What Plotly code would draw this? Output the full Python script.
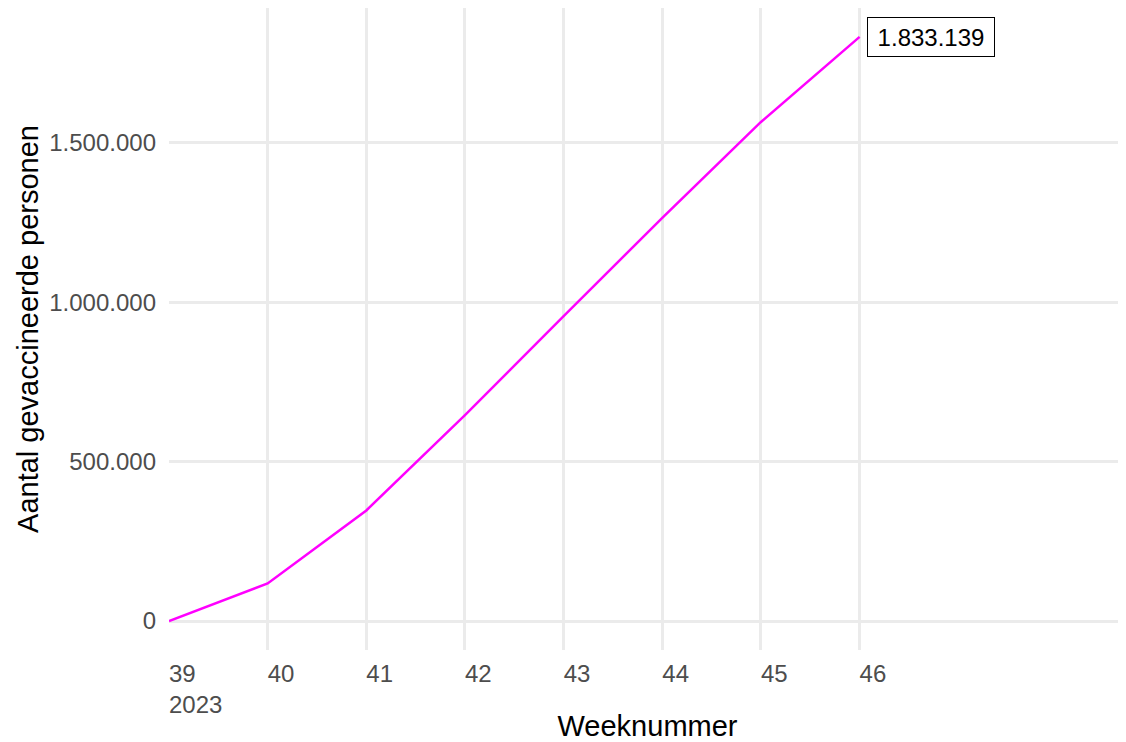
import plotly.graph_objects as go

weeks = [39, 40, 41, 42, 43, 44, 45, 46]
vaccinated = [0, 118000, 347000, 646000, 957000, 1265000, 1566000, 1833139]
x_tick_labels = ["39<br>2023", "40", "41", "42", "43", "44", "45", "46"]
y_ticks = [0, 500000, 1000000, 1500000]

def fmt(v):
    return f"{v:,}".replace(",", ".")

fig = go.Figure()
fig.add_trace(go.Scatter(
    x=weeks, y=vaccinated, mode="lines",
    line=dict(color="#FF00FF", width=2.5),
    hoverinfo="skip", showlegend=False,
))

fig.add_annotation(
    x=weeks[-1], y=vaccinated[-1], text=fmt(vaccinated[-1]),
    showarrow=False, xanchor="left", yanchor="middle", xshift=7,
    font=dict(family="Liberation Sans, Arial", size=24, color="black"),
    bgcolor="white", bordercolor="black", borderwidth=1, borderpad=1,
    width=124, height=36, align="center",
)

fig.update_layout(
    width=1118, height=734,
    margin=dict(l=161, r=0, t=0, b=92),
    plot_bgcolor="white", paper_bgcolor="white",
    separators=",.",
    font=dict(family="Liberation Sans, Arial", color="#4d4d4d"),
    xaxis=dict(
        range=[39, 48.70], tickvals=weeks, ticktext=x_tick_labels,
        ticklabelposition="outside right",
        showgrid=True, gridcolor="#ebebeb", gridwidth=2.5,
        zeroline=False, showline=False, ticks="",
        tickfont=dict(size=24, color="#4d4d4d"),
        ticklabelstandoff=7, automargin=False,
        title=dict(text="Weeknummer", font=dict(size=29, color="black"), standoff=16),
    ),
    yaxis=dict(
        range=[-91000, 1923600], tickvals=y_ticks,
        tickformat=",d",
        showgrid=True, gridcolor="#ebebeb", gridwidth=2.5,
        zeroline=False, showline=False, ticks="",
        tickfont=dict(size=24, color="#4d4d4d"),
        ticklabelstandoff=12, automargin=False,
        title=dict(text="Aantal gevaccineerde personen", font=dict(size=29, color="black"), standoff=2),
    ),
)

fig.write_html("out.html")
